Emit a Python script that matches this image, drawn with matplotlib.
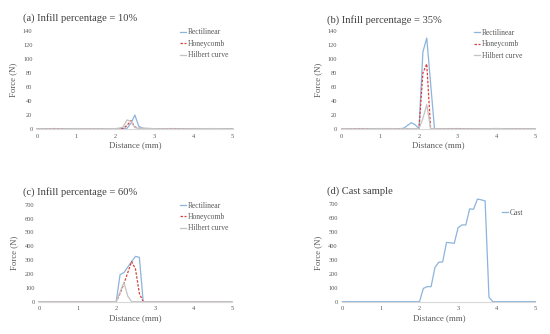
import matplotlib
matplotlib.use("Agg")
import matplotlib.pyplot as plt

plt.rcParams['font.family'] = ['Liberation Serif', 'DejaVu Serif']

# ---- data (distance in mm, force in N) ----
a_rect_x = [0, 0.5, 1.0, 1.5, 2.0, 2.2, 2.3, 2.4, 2.5, 2.6, 2.7, 3.0, 3.5, 4.0, 4.5, 5.0]
a_rect_y = [0.5, 0.3, 0.6, 0.2, 0.5, 0.8, 1, 8, 20, 4, 1, 0.5, 0.3, 0.6, 0.4, 0.5]
a_honey_x = [0, 0.5, 1.0, 1.5, 2.0, 2.2, 2.3, 2.4, 2.5, 2.6, 3.0, 3.5, 4.0, 4.5, 5.0]
a_honey_y = [0.3, 0.6, 0.2, 0.5, 0.4, 1, 5, 12, 3, 0.8, 0.4, 0.6, 0.3, 0.5, 0.3]
a_hilb_x = [0, 0.5, 1.0, 1.5, 2.0, 2.1, 2.2, 2.3, 2.4, 2.5, 2.6, 3.0, 3.5, 4.0, 4.5, 5.0]
a_hilb_y = [0.4, 0.2, 0.5, 0.3, 0.6, 1, 3, 13, 11, 2, 0.8, 0.5, 0.2, 0.4, 0.6, 0.3]

b_rect_x = [0, 0.5, 1.0, 1.5, 1.6, 1.7, 1.8, 1.9, 2.0, 2.1, 2.2, 2.3, 2.4, 3.0, 3.5, 4.0, 4.5, 5.0]
b_rect_y = [0.5, 0.3, 0.6, 0.5, 1, 5, 9, 6, 0.5, 110, 130, 65, 0.3, 0.5, 0.3, 0.6, 0.4, 0.5]
b_honey_x = [0, 0.5, 1.0, 1.5, 2.0, 2.1, 2.2, 2.3, 3.0, 3.5, 4.0, 4.5, 5.0]
b_honey_y = [0.3, 0.6, 0.2, 0.5, 0.4, 80, 93, 0.4, 0.6, 0.3, 0.5, 0.3, 0.5]
b_hilb_x = [0, 0.5, 1.0, 1.5, 2.0, 2.1, 2.2, 2.3, 3.0, 3.5, 4.0, 4.5, 5.0]
b_hilb_y = [0.4, 0.2, 0.5, 0.3, 0.6, 15, 35, 0.5, 0.2, 0.4, 0.6, 0.3, 0.4]

c_rect_x = [0, 1.0, 2.0, 2.1, 2.2, 2.3, 2.4, 2.5, 2.6, 2.7, 3.0, 4.0, 5.0]
c_rect_y = [0, 0, 0, 195, 210, 250, 290, 327, 320, 0, 0, 0, 0]
c_honey_x = [0, 1.0, 2.0, 2.1, 2.2, 2.3, 2.4, 2.5, 2.6, 2.7, 3.0, 4.0, 5.0]
c_honey_y = [0, 0, 0, 60, 130, 210, 290, 235, 60, 0, 0, 0, 0]
c_hilb_x = [0, 1.0, 2.0, 2.1, 2.2, 2.3, 2.4, 3.0, 4.0, 5.0]
c_hilb_y = [0, 0, 0, 70, 140, 40, 0, 0, 0, 0]

d_cast_x = [0, 1.0, 2.0, 2.1, 2.2, 2.3, 2.4, 2.5, 2.6, 2.7, 2.8, 2.9, 3.0, 3.1, 3.2,
            3.3, 3.4, 3.5, 3.6, 3.7, 3.8, 3.9, 4.0, 5.0]
d_cast_y = [0, 0, 0, 95, 108, 108, 245, 283, 285, 425, 422, 418, 530, 550, 550,
            665, 662, 735, 730, 722, 32, 0, 0, 0]

series_names = ["Rectilinear", "Honeycomb", "Hilbert curve"]
titles = ["(a) Infill percentage = 10%", "(b) Infill percentage = 35%",
          "(c) Infill percentage = 60%", "(d) Cast sample"]
x_ticks = [0, 1, 2, 3, 4, 5]
y_ticks_small = [0, 20, 40, 60, 80, 100, 120, 140]
y_ticks_big = [0, 100, 200, 300, 400, 500, 600, 700]

C_RECT = '#8db4dc'
C_HONEY = '#d9423e'
C_HILB = '#c3c3c3'

W, H = 550, 334
fig = plt.figure(figsize=(5.5, 3.34), dpi=100)

def fx(px):
    return px / W

def fy(py):
    return 1 - py / H

def make_ax(left, right, y0, ytop_px, ytop_val, ylim_top):
    px_per = (y0 - ytop_px) / ytop_val
    height_px = px_per * ylim_top
    ax = fig.add_axes([fx(left), fy(y0), (right - left) / W, height_px / H])
    ax.set_xlim(0, 5)
    ax.set_ylim(0, ylim_top)
    for s in ['top', 'right', 'left']:
        ax.spines[s].set_visible(False)
    ax.spines['bottom'].set_color('#d9d9d9')
    ax.spines['bottom'].set_linewidth(0.8)
    ax.tick_params(length=0, labelsize=4.6, colors='#595959', pad=3.3)
    ax.set_xticks(x_ticks)
    ax.set_xlabel("Distance (mm)", fontsize=6.3, color='#595959', labelpad=2)
    ax.set_ylabel("Force (N)", fontsize=6.3, color='#595959', labelpad=2)
    return ax

axes = [
    make_ax(37, 232.7, 129, 31, 140, 140),
    make_ax(341.7, 535, 129, 31, 140, 140),
    make_ax(39, 232, 301.7, 204.7, 700, 760),
    make_ax(342.3, 535.3, 301.7, 204, 700, 760),
]
axes[0].set_yticks(y_ticks_small)
axes[1].set_yticks(y_ticks_small)
axes[2].set_yticks(y_ticks_big)
axes[3].set_yticks(y_ticks_big)

lw = 0.9
data = [
    [(a_rect_x, a_rect_y), (a_honey_x, a_honey_y), (a_hilb_x, a_hilb_y)],
    [(b_rect_x, b_rect_y), (b_honey_x, b_honey_y), (b_hilb_x, b_hilb_y)],
    [(c_rect_x, c_rect_y), (c_honey_x, c_honey_y), (c_hilb_x, c_hilb_y)],
]
for ax, ser in zip(axes[:3], data):
    ax.plot(*ser[0], color=C_RECT, lw=lw, label=series_names[0], clip_on=False)
    ax.plot(*ser[1], color=C_HONEY, lw=lw, ls=(0, (2, 1.2)), label=series_names[1], clip_on=False)
    ax.plot(*ser[2], color=C_HILB, lw=lw, label=series_names[2], clip_on=False)
axes[3].plot(d_cast_x, d_cast_y, color=C_RECT, lw=lw, label="Cast", clip_on=False)

leg_pos = [(180, 28.5), (474, 29), (180, 201.5), (502, 209)]
for ax, (lx, ly) in zip(axes, leg_pos):
    ax.legend(loc='upper left', bbox_to_anchor=(fx(lx), fy(ly)),
              bbox_transform=fig.transFigure, frameon=False, fontsize=5.5,
              handlelength=0.75, handletextpad=0.25, labelspacing=0.45,
              borderpad=0, borderaxespad=0, labelcolor='#595959')

title_pos = [(23, 18.5), (327, 20), (23, 192), (327, 191)]
for (tx, ty), t in zip(title_pos, titles):
    fig.text(fx(tx), fy(ty), t, fontsize=7.6, color='#404040', ha='left', va='center')

# y-label right edge (anchor) positions in pixels
ylab_x = [17.5, 322.5, 18.5, 322.5]
ylab_mid = [129 - 49, 129 - 49, 301.7 - 48.5, 301.7 - 48.5]
for ax, yx, ym in zip(axes, ylab_x, ylab_mid):
    bb = ax.get_position()
    ax.yaxis.set_label_coords((fx(yx) - bb.x0) / bb.width, (fy(ym) - bb.y0) / bb.height)

fig.savefig("out.png", dpi=100)
